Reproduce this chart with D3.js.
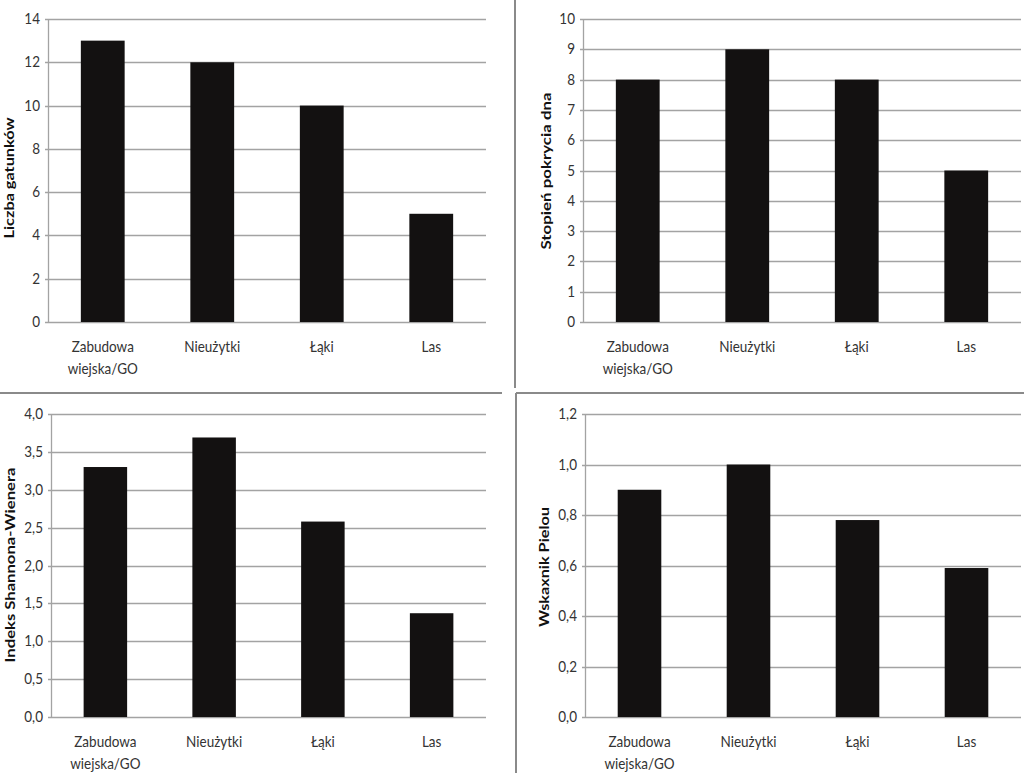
<!DOCTYPE html>
<html><head><meta charset="utf-8">
<script src="https://cdn.jsdelivr.net/npm/d3@7"></script>
<style>body{margin:0;background:#fff}svg{display:block}</style>
</head><body>
<svg id="c" width="1024" height="773"></svg>
<script>
// ---- data ----
const categories = ["Zabudowa wiejska/GO", "Nieużytki", "Łąki", "Las"];
const categoryLines = [["Zabudowa", "wiejska/GO"], ["Nieużytki"], ["Łąki"], ["Las"]];
const speciesCount = [13, 12, 10, 5];
const coverDegree = [8, 9, 8, 5];
const shannonIndex = [3.3, 3.69, 2.58, 1.37];
const pielouIndex = [0.9, 1.0, 0.78, 0.59];
const ticksSpecies = [0, 2, 4, 6, 8, 10, 12, 14];
const ticksCover = [0, 1, 2, 3, 4, 5, 6, 7, 8, 9, 10];
const ticksShannon = [0, 0.5, 1, 1.5, 2, 2.5, 3, 3.5, 4];
const ticksPielou = [0, 0.2, 0.4, 0.6, 0.8, 1.0, 1.2];
const titles = ["Liczba gatunków", "Stopień pokrycia dna", "Indeks Shannona-Wienera", "Wskaxnik Pielou"];

const svg = d3.select("#c");
const FONT = "Lato, 'Open Sans', sans-serif";
const SY = 1.15; // vertical stretch of the scanned text
const comma = f => v => d3.format(f)(v).replace(".", ",");

const panels = [
  {values: speciesCount, ticks: ticksSpecies, fmt: d3.format("d"), title: titles[0], x0: 48, x1: 486, y0: 19, y1: 322, tx: 9, ty: 178, tl: 121},
  {values: coverDegree, ticks: ticksCover, fmt: d3.format("d"), title: titles[1], x0: 583, x1: 1021, y0: 19, y1: 322, tx: 546, ty: 171, tl: 157},
  {values: shannonIndex, ticks: ticksShannon, fmt: comma(".1f"), title: titles[2], x0: 51, x1: 486, y0: 414, y1: 717, tx: 10, ty: 565, tl: 195},
  {values: pielouIndex, ticks: ticksPielou, fmt: comma(".1f"), title: titles[3], x0: 585, x1: 1021, y0: 414, y1: 717, tx: 544, ty: 567, tl: 120}
];

// panel frame lines
const frame = svg.append("g").attr("stroke", "#8a8a8a").attr("stroke-width", 2);
frame.append("line").attr("x1", 515).attr("y1", 0).attr("x2", 515).attr("y2", 388);
frame.append("line").attr("x1", 0).attr("y1", 393).attr("x2", 502).attr("y2", 393);
frame.append("line").attr("x1", 516).attr("y1", 393).attr("x2", 1024).attr("y2", 393);
frame.append("line").attr("x1", 516).attr("y1", 393).attr("x2", 516).attr("y2", 773);

panels.forEach(p => {
  const g = svg.append("g");
  const y = d3.scaleLinear().domain([p.ticks[0], p.ticks[p.ticks.length - 1]]).range([p.y1, p.y0]);
  const x = d3.scaleBand().domain(categories).range([p.x0, p.x1]).paddingInner(0.6).paddingOuter(0.3);

  // gridlines
  g.append("g").selectAll("line").data(p.ticks).join("line")
    .attr("x1", p.x0 - 3).attr("x2", p.x1)
    .attr("y1", d => Math.round(y(d)) + 0.5).attr("y2", d => Math.round(y(d)) + 0.5)
    .attr("stroke", "#a3a3a3").attr("stroke-width", 1.3);
  // y axis line
  g.append("line").attr("x1", p.x0 + 0.5).attr("x2", p.x0 + 0.5).attr("y1", p.y0).attr("y2", p.y1)
    .attr("stroke", "#a3a3a3").attr("stroke-width", 1.3);

  // tick labels
  g.append("g").selectAll("text").data(p.ticks).join("text")
    .attr("transform", d => `translate(${p.x0 - 8},${y(d) + 5}) scale(1,${SY})`)
    .attr("text-anchor", "end").attr("font-family", FONT).attr("font-size", 13.5)
    .attr("fill", "#333").text(p.fmt);

  // bars
  g.append("g").selectAll("rect").data(p.values).join("rect")
    .attr("x", (d, i) => x(categories[i])).attr("width", x.bandwidth())
    .attr("y", d => y(d)).attr("height", d => y(0) - y(d))
    .attr("fill", "#131111");

  // category labels
  const lab = g.append("g").selectAll("text").data(categoryLines).join("text")
    .attr("transform", (d, i) => `translate(${x(categories[i]) + x.bandwidth() / 2},${p.y1 + 30}) scale(1,${SY})`)
    .attr("text-anchor", "middle").attr("font-family", FONT).attr("font-size", 13.5).attr("fill", "#333");
  lab.selectAll("tspan").data(d => d).join("tspan")
    .attr("x", 0)
    .attr("dy", (d, i) => i === 0 ? 0 : 22 / SY).text(d => d);

  // y title
  g.append("text")
    .attr("transform", `translate(${p.tx},${p.ty}) rotate(-90)`)
    .attr("dy", "0.35em").attr("text-anchor", "middle")
    .attr("font-family", FONT).attr("font-weight", "bold").attr("font-size", 13)
    .attr("textLength", p.tl).attr("lengthAdjust", "spacingAndGlyphs")
    .attr("fill", "#111").text(p.title);
});
</script>
</body></html>
